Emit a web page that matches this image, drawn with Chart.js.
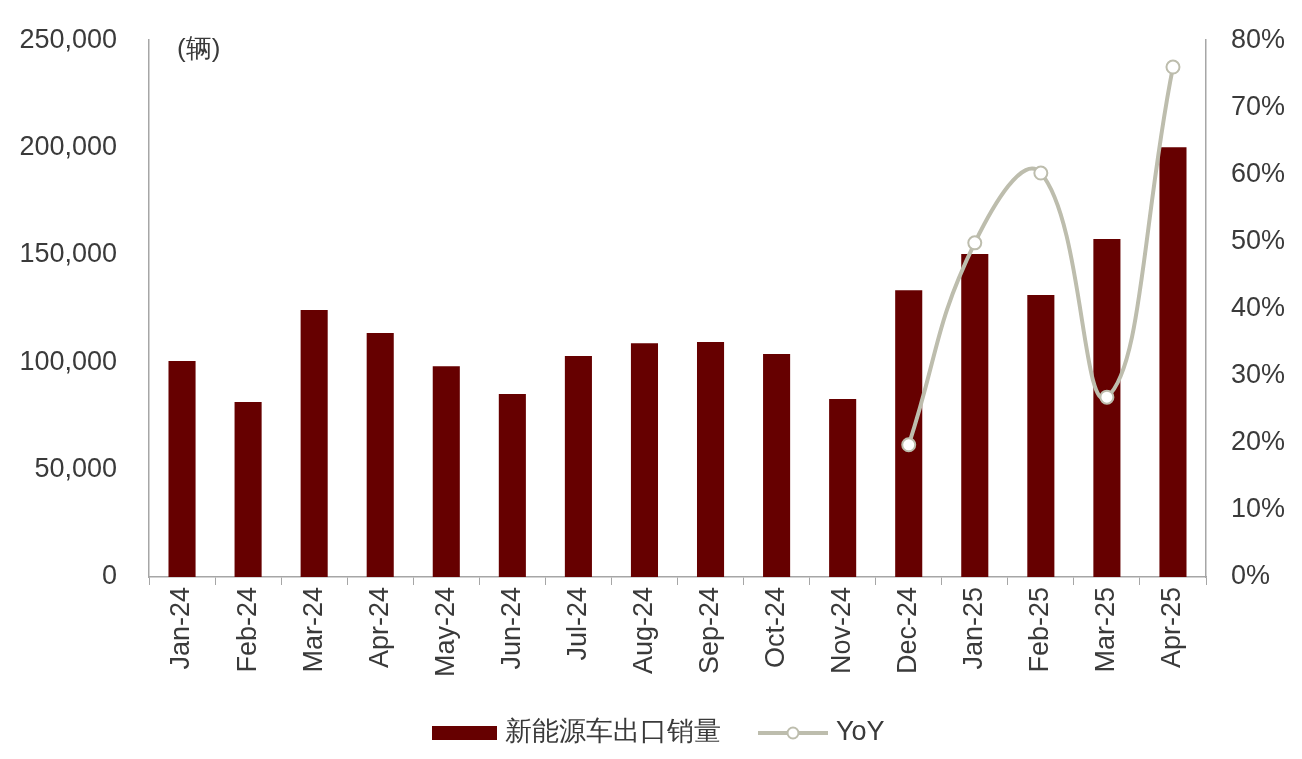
<!DOCTYPE html>
<html>
<head>
<meta charset="utf-8">
<script src="https://cdn.jsdelivr.net/npm/chart.js@4"></script>
<style>
  html, body { margin: 0; padding: 0; background: #fff; }
  #wrap { width: 1302px; height: 759px; }
</style>
</head>
<body>
<div id="wrap"><canvas id="chart" width="1302" height="759"></canvas></div>
<script>
const months = ['Jan-24','Feb-24','Mar-24','Apr-24','May-24','Jun-24','Jul-24','Aug-24','Sep-24','Oct-24','Nov-24','Dec-24','Jan-25','Feb-25','Mar-25','Apr-25'];
const exportSales = [100600, 81500, 124300, 113600, 98200, 85200, 102900, 108900, 109400, 103800, 82900, 133600, 150400, 131300, 157400, 200200];
const yoy = [null, null, null, null, null, null, null, null, null, null, null, 19.7, 49.8, 60.2, 26.8, 76.0];

const barLabel = '新能源车出口销量';
const lineLabel = 'YoY';
const unitText = '(辆)';

const barColor = '#660000';
const lineColor = '#bdbdad';
const textColor = '#3a3a3a';
const axisColor = '#a6a6a6';
const font = 'Liberation Sans, Arial, sans-serif';

// legend + unit label drawn by hand
const extras = {
  id: 'extras',
  afterDraw(chart) {
    const ctx = chart.ctx;
    const area = chart.chartArea;
    ctx.save();
    ctx.fillStyle = textColor;
    ctx.font = '26px ' + font;
    ctx.textBaseline = 'middle';
    ctx.textAlign = 'left';
    ctx.fillText(unitText, area.left + 28, area.top + 10);

    const ly = 733;
    ctx.font = '27px ' + font;
    ctx.fillStyle = barColor;
    ctx.fillRect(432, ly - 7, 65, 14);
    ctx.fillStyle = textColor;
    ctx.fillText(barLabel, 505, ly);

    ctx.strokeStyle = lineColor;
    ctx.lineWidth = 4;
    ctx.beginPath();
    ctx.moveTo(758, ly);
    ctx.lineTo(828, ly);
    ctx.stroke();
    ctx.beginPath();
    ctx.arc(793, ly, 5.5, 0, Math.PI * 2);
    ctx.fillStyle = '#fff';
    ctx.fill();
    ctx.lineWidth = 2;
    ctx.stroke();
    ctx.fillStyle = textColor;
    ctx.fillText(lineLabel, 836, ly);
    ctx.restore();
  }
};

new Chart(document.getElementById('chart'), {
  data: {
    labels: months,
    datasets: [
      {
        type: 'line',
        label: lineLabel,
        data: yoy,
        yAxisID: 'y2',
        order: 0,
        borderColor: lineColor,
        borderWidth: 4,
        tension: 0.45,
        pointRadius: 6.5,
        pointBorderWidth: 2,
        pointBackgroundColor: '#fff',
        pointBorderColor: lineColor
      },
      {
        type: 'bar',
        label: barLabel,
        data: exportSales,
        yAxisID: 'y',
        order: 1,
        backgroundColor: barColor,
        barPercentage: 0.82,
        categoryPercentage: 0.5
      }
    ]
  },
  options: {
    responsive: false,
    animation: false,
    layout: { padding: { top: 17, bottom: 77, left: 0, right: 0 } },
    plugins: { legend: { display: false }, tooltip: { enabled: false } },
    scales: {
      x: {
        offset: true,
        grid: { drawOnChartArea: false, drawTicks: true, tickLength: 8, color: axisColor, offset: true },
        border: { color: axisColor, width: 1.5 },
        ticks: { minRotation: 90, maxRotation: 90, color: textColor, font: { family: font, size: 27 }, padding: 2 },
        afterFit(s) { s.height = 105; }
      },
      y: {
        position: 'left',
        min: 0, max: 250000,
        grid: { display: false },
        border: { color: axisColor, width: 1.5 },
        ticks: {
          stepSize: 50000,
          color: textColor,
          font: { family: font, size: 27 },
          padding: 24,
          callback: v => v.toLocaleString('en-US')
        },
        afterFit(s) { s.width = 149; }
      },
      y2: {
        position: 'right',
        min: 0, max: 80,
        grid: { display: false },
        border: { color: axisColor, width: 1.5 },
        ticks: {
          stepSize: 10,
          color: textColor,
          font: { family: font, size: 27 },
          padding: 17,
          callback: v => v + '%'
        },
        afterFit(s) { s.width = 96; }
      }
    }
  },
  plugins: [extras]
});
</script>
</body>
</html>
